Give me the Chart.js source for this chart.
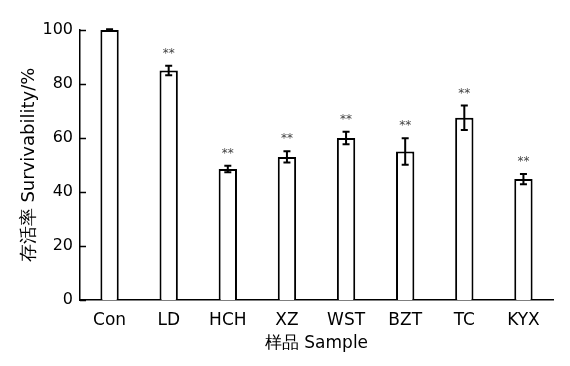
<!DOCTYPE html>
<html>
<head>
<meta charset="utf-8">
<script src="https://cdn.jsdelivr.net/npm/chart.js@4.4.0/dist/chart.umd.min.js"></script>
<style>
  html, body { margin: 0; padding: 0; background: #fff; }
  #wrap { width: 570px; height: 366px; }
</style>
</head>
<body>
<div id="wrap"><canvas id="chart"></canvas></div>
<script>
const categories = ['Con', 'LD', 'HCH', 'XZ', 'WST', 'BZT', 'TC', 'KYX'];
const survival = [100, 85, 48.5, 53, 60, 55, 67.5, 44.8];
const errors = [0.3, 1.8, 1.2, 2.1, 2.3, 4.9, 4.5, 1.9];
const marks = ['', '**', '**', '**', '**', '**', '**', '**'];
const yTicks = [0, 20, 40, 60, 80, 100];

const FONT = '"DejaVu Sans", sans-serif';

// error bars, significance stars and inward y ticks
const extrasPlugin = {
  id: 'extras',
  afterDatasetsDraw(chart) {
    const { ctx, scales: { x, y }, chartArea } = chart;
    const meta = chart.getDatasetMeta(0);
    ctx.save();
    ctx.strokeStyle = '#000';
    ctx.lineWidth = 2;
    meta.data.forEach((bar, i) => {
      const cx = bar.x;
      const top = y.getPixelForValue(survival[i] + errors[i]);
      const bot = y.getPixelForValue(survival[i] - errors[i]);
      ctx.beginPath();
      ctx.moveTo(cx, top); ctx.lineTo(cx, bot);
      ctx.moveTo(cx - 3.5, top); ctx.lineTo(cx + 3.5, top);
      ctx.moveTo(cx - 3.5, bot); ctx.lineTo(cx + 3.5, bot);
      ctx.stroke();
      if (marks[i]) {
        ctx.fillStyle = '#444';
        ctx.font = '12px ' + FONT;
        ctx.textAlign = 'center';
        ctx.textBaseline = 'middle';
        ctx.fillText(marks[i], cx, top - 12);
      }
    });
    ctx.lineWidth = 1.5;
    yTicks.forEach(v => {
      const py = Math.round(y.getPixelForValue(v)) + 0.5;
      ctx.beginPath();
      ctx.moveTo(chartArea.left, py);
      ctx.lineTo(chartArea.left + 6, py);
      ctx.stroke();
    });
    ctx.restore();
  }
};

new Chart(document.getElementById('chart'), {
  type: 'bar',
  plugins: [extrasPlugin],
  data: {
    labels: categories,
    datasets: [{
      data: survival,
      backgroundColor: '#fff',
      borderColor: '#000',
      borderWidth: 2,
      borderSkipped: 'bottom',
      barPercentage: 0.31,
      categoryPercentage: 1,
    }]
  },
  options: {
    responsive: true,
    maintainAspectRatio: false,
    animation: false,
    layout: { padding: { top: 30, right: 17, bottom: 0, left: 0 } },
    plugins: { legend: { display: false }, tooltip: { enabled: false } },
    scales: {
      x: {
        afterFit(scale) { scale.height = 66; },
        grid: { display: false, drawTicks: false },
        border: { display: true, color: '#000', width: 1.5 },
        ticks: { color: '#000', padding: 10, font: { family: FONT, size: 17 } },
        title: {
          display: true, text: '样品 Sample', color: '#000',
          font: { family: FONT, size: 17 }, padding: { top: 0, bottom: 12 }
        }
      },
      y: {
        min: 0, max: 100,
        afterFit(scale) { scale.width = 80; },
        afterBuildTicks(scale) { scale.ticks = yTicks.map(v => ({ value: v })); },
        grid: { display: false, drawTicks: false },
        border: { display: true, color: '#000', width: 1.5 },
        ticks: { color: '#000', padding: 7, font: { family: FONT, size: 16 } },
        title: {
          display: true, text: '存活率 Survivability/%', color: '#000',
          font: { family: FONT, size: 18 }, padding: { top: 19, bottom: 0 }
        }
      }
    }
  }
});
</script>
</body>
</html>
